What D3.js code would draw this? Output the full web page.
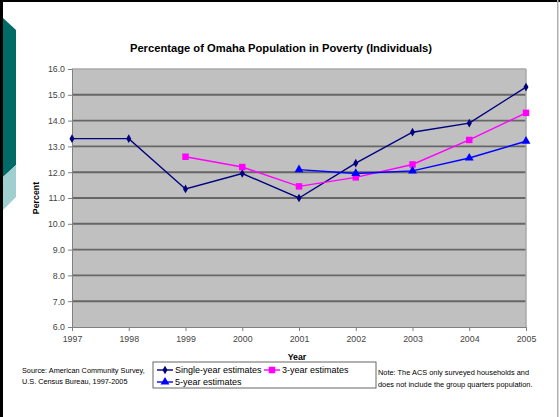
<!DOCTYPE html>
<html>
<head>
<meta charset="utf-8">
<script src="https://cdn.jsdelivr.net/npm/d3@7"></script>
<style>
  body { margin: 0; background: #fff; }
  svg { display: block; font-family: "Liberation Sans", Arial, sans-serif; }
</style>
</head>
<body>
<svg id="chart" width="560" height="417"></svg>
<script>
// Poverty rate for individuals in Omaha, ACS estimates
const years = [1997, 1998, 1999, 2000, 2001, 2002, 2003, 2004, 2005];
const singleYear = [13.3, 13.3, 11.35, 11.95, 11.0, 12.35, 13.55, 13.9, 15.3];
const threeYear = [null, null, 12.6, 12.2, 11.45, 11.8, 12.3, 13.25, 14.3];
const fiveYear = [null, null, null, null, 12.1, 11.95, 12.05, 12.55, 13.2];
const yTicks = [6, 7, 8, 9, 10, 11, 12, 13, 14, 15, 16];
const seriesNames = ["Single-year estimates", "3-year estimates", "5-year estimates"];

const svg = d3.select("#chart");

// slide frame and side ornament
svg.append("rect").attr("x", 0).attr("y", 0).attr("width", 560).attr("height", 2).attr("fill", "#000");
svg.append("rect").attr("x", 0).attr("y", 0).attr("width", 3).attr("height", 417).attr("fill", "#000");
svg.append("rect").attr("x", 557).attr("y", 0).attr("width", 1.5).attr("height", 417).attr("fill", "#b0b0b0");
svg.append("path").attr("d", "M3,18 L16,30 L16,165 L3,177 Z").attr("fill", "#006b66");
svg.append("path").attr("d", "M3,177 L16,165 L16,197 L3,210 Z").attr("fill", "#9fd0cf");

const x = d3.scaleLinear().domain([1997, 2005]).range([72, 526]);
const y = d3.scaleLinear().domain([6, 16]).range([327, 69]);

// plot area
svg.append("rect")
  .attr("x", x(1997)).attr("y", y(16))
  .attr("width", x(2005) - x(1997)).attr("height", y(6) - y(16))
  .attr("fill", "#c0c0c0");

// horizontal gridlines
svg.append("g").selectAll("line")
  .data(yTicks.filter(t => t > 6 && t < 16))
  .join("line")
  .attr("x1", x(1997)).attr("x2", x(2005))
  .attr("y1", d => y(d)).attr("y2", d => y(d))
  .attr("stroke", "#666").attr("stroke-width", 1.9);

svg.append("line")
  .attr("x1", x(1997)).attr("x2", x(2005)).attr("y1", y(16)).attr("y2", y(16))
  .attr("stroke", "#a8a8a8").attr("stroke-width", 1.5);
svg.append("line")
  .attr("x1", x(2005)).attr("x2", x(2005)).attr("y1", y(16)).attr("y2", y(6))
  .attr("stroke", "#a8a8a8").attr("stroke-width", 1.5);

// axes
const yAxis = d3.axisLeft(y).tickValues(yTicks).tickFormat(d3.format(".1f")).tickSize(4).tickPadding(3);
const gy = svg.append("g").attr("transform", `translate(${x(1997)},0)`).call(yAxis);
const xAxis = d3.axisBottom(x).tickValues(years).tickFormat(d3.format("d")).tickSize(4).tickPadding(5);
const gx = svg.append("g").attr("transform", `translate(0,${y(6)})`).call(xAxis);
[gx, gy].forEach(g => {
  g.select(".domain").attr("stroke", "#808080");
  g.selectAll(".tick line").attr("stroke", "#808080");
  g.selectAll(".tick text").attr("fill", "#444").style("font-size", "8.8px")
    .style("font-family", "'Liberation Sans', Arial, sans-serif");
});

// series
const series = [
  { name: seriesNames[0], values: singleYear, color: "#000080", shape: d3.symbolDiamond, size: 22 },
  { name: seriesNames[1], values: threeYear, color: "#ff00ff", shape: d3.symbolSquare, size: 42 },
  { name: seriesNames[2], values: fiveYear, color: "#0000ff", shape: d3.symbolTriangle, size: 34 }
];

const line = d3.line()
  .defined(d => d.v != null)
  .x(d => x(d.year)).y(d => y(d.v));

series.forEach(s => {
  const pts = years.map((yr, i) => ({ year: yr, v: s.values[i] }));
  svg.append("path").datum(pts)
    .attr("d", line)
    .attr("fill", "none").attr("stroke", s.color).attr("stroke-width", 1.4);
  svg.append("g").selectAll("path")
    .data(pts.filter(d => d.v != null))
    .join("path")
    .attr("transform", d => `translate(${x(d.year)},${y(d.v)})`)
    .attr("d", d3.symbol().type(s.shape).size(s.size))
    .attr("fill", s.color);
});

// titles
svg.append("text")
  .attr("x", 281).attr("y", 52).attr("text-anchor", "middle")
  .style("font-size", "11.2px").style("font-weight", "bold").attr("fill", "#000")
  .text("Percentage of Omaha Population in Poverty (Individuals)");
svg.append("text")
  .attr("transform", `translate(39,198) rotate(-90)`).attr("text-anchor", "middle")
  .style("font-size", "8.8px").style("font-weight", "bold").attr("fill", "#000")
  .text("Percent");
svg.append("text")
  .attr("x", 297).attr("y", 360).attr("text-anchor", "middle")
  .style("font-size", "8.8px").style("font-weight", "bold").attr("fill", "#000")
  .text("Year");

// legend
const lg = svg.append("g");
lg.append("rect").attr("x", 153).attr("y", 362).attr("width", 223).attr("height", 26)
  .attr("fill", "#fff").attr("stroke", "#666").attr("stroke-width", 1);
const legendPos = [[157, 370], [264, 370], [157, 382]];
series.forEach((s, i) => {
  const [lx, ly] = legendPos[i];
  lg.append("line").attr("x1", lx).attr("x2", lx + 16).attr("y1", ly).attr("y2", ly)
    .attr("stroke", s.color).attr("stroke-width", 1.4);
  lg.append("path").attr("transform", `translate(${lx + 8},${ly})`)
    .attr("d", d3.symbol().type(s.shape).size(s.size)).attr("fill", s.color);
  lg.append("text").attr("x", lx + 18).attr("y", ly + 3.2)
    .style("font-size", "9px").attr("fill", "#000").text(s.name);
});

// notes
const src = svg.append("text").style("font-size", "7.3px").attr("fill", "#000");
src.append("tspan").attr("x", 22).attr("y", 373).text("Source: American Community Survey,");
src.append("tspan").attr("x", 22).attr("y", 384).text("U.S. Census Bureau, 1997-2005");
const note = svg.append("text").style("font-size", "7.4px").attr("fill", "#000");
note.append("tspan").attr("x", 378).attr("y", 375).text("Note: The ACS only surveyed households and");
note.append("tspan").attr("x", 378).attr("y", 387).text("does not include the group quarters population.");
</script>
</body>
</html>
